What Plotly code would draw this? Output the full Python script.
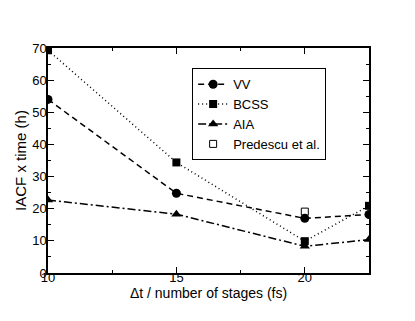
import plotly.graph_objects as go

# time step / number of stages (fs)
dt = [10, 15, 20, 22.5]

# IACF x time (h)
vv = [54.0, 24.8, 17.0, 18.2]
bcss = [69.3, 34.4, 9.9, 20.9]
aia = [22.7, 18.3, 8.3, 10.4]

predescu_dt = [20]
predescu = [19.1]

fig = go.Figure()

fig.add_trace(go.Scatter(
    x=dt, y=vv, name="VV", mode="lines+markers",
    line=dict(color="black", width=1.5, dash="6px,4px"),
    marker=dict(symbol="circle", size=9, color="black"),
))
fig.add_trace(go.Scatter(
    x=dt, y=bcss, name="BCSS", mode="lines+markers",
    line=dict(color="black", width=1.5, dash="1px,3px"),
    marker=dict(symbol="square", size=8, color="black"),
))
fig.add_trace(go.Scatter(
    x=dt, y=aia, name="AIA", mode="lines+markers",
    line=dict(color="black", width=1.5, dash="8px,3px,2px,3px"),
    marker=dict(symbol="triangle-up", size=9, color="black"),
))
fig.add_trace(go.Scatter(
    x=predescu_dt, y=predescu, name="Predescu et al.", mode="markers",
    marker=dict(symbol="square-open", size=7, color="black", line=dict(width=1)),
))

axis_style = dict(
    showline=True, linecolor="black", linewidth=1.5, mirror="ticks",
    ticks="inside", ticklen=6, tickcolor="black", tickwidth=1,
    showgrid=False, zeroline=False, automargin=False,
    tickfont=dict(size=13, color="black"),
)

fig.update_xaxes(
    range=[10, 22.5], tickvals=[10, 15, 20], ticklabelstandoff=-8,
    minor=dict(tickvals=[12.5, 17.5], ticks="inside", ticklen=3, tickcolor="black"),
    title=dict(text="\u0394t / number of stages (fs)", font=dict(size=14, color="black"), standoff=0),
    **axis_style,
)
fig.update_yaxes(
    range=[0, 70], dtick=10, ticklabelstandoff=-3,
    minor=dict(dtick=5, ticks="inside", ticklen=3, tickcolor="black"),
    title=dict(text="IACF x time (h)", font=dict(size=15, color="black"), standoff=2),
    **axis_style,
)

# the page adds an 8px offset, so margins are shifted to compensate
fig.update_layout(
    width=415, height=321,
    margin=dict(l=40, r=54, t=40, b=56),
    paper_bgcolor="white", plot_bgcolor="white",
    font=dict(family="Liberation Sans, Arial, sans-serif", color="black"),
    showlegend=True,
    legend=dict(
        x=0.449, y=0.91, xanchor="left", yanchor="top",
        bgcolor="white", bordercolor="black", borderwidth=1,
        font=dict(size=13), tracegroupgap=0, itemwidth=30,
    ),
)

fig.write_html("out.html")
